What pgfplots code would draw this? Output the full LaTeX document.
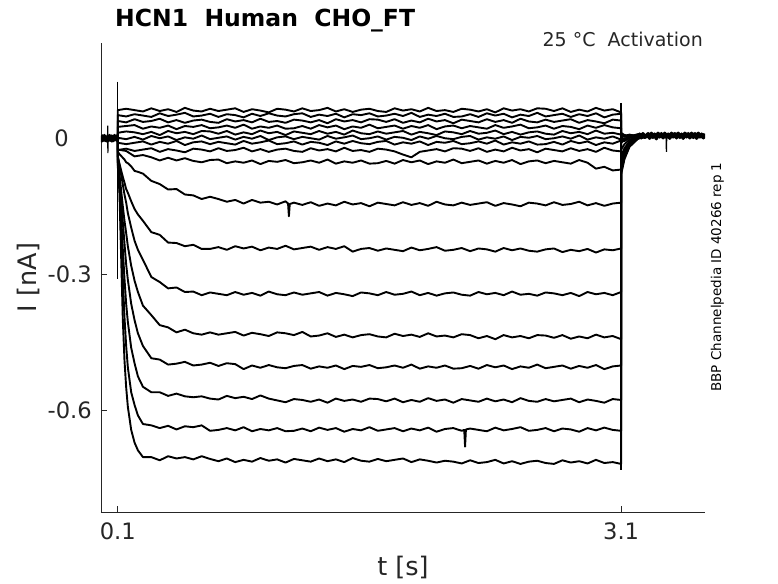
\documentclass[border=0pt]{standalone}
\usepackage{fontspec}
\setmainfont{DejaVu Sans}
\usepackage{pgfplots}
\usepackage{pgfplotstable}
\pgfplotsset{compat=1.18}
\definecolor{mgray}{rgb}{0.15,0.15,0.15}

\pgfplotstableread{
t a b c d e f g h i j k l m n o p q
0.1 0.000 0.000 0.000 0.000 0.000 0.000 0.000 0.000 0.000 0.000 0.000 0.000 0.000 0.000 0.000 0.000 0.000
0.1 0.062 0.051 0.038 0.025 0.012 0.001 -0.010 -0.026 -0.025 -0.030 -0.040 -0.040 -0.045 -0.050 -0.050 -0.055 -0.060
0.11 nan nan nan nan nan nan nan nan nan -0.035 -0.056 -0.060 -0.080 -0.085 -0.095 -0.105 -0.120
0.12 nan nan nan nan nan nan nan nan nan -0.039 -0.071 -0.080 -0.115 -0.135 -0.170 -0.210 -0.260
0.13 nan nan nan nan nan nan nan nan nan -0.043 -0.085 -0.102 -0.150 -0.185 -0.245 -0.310 -0.400
0.14 nan nan nan nan nan nan nan nan nan -0.047 -0.098 -0.124 -0.182 -0.232 -0.310 -0.395 -0.490
0.15 0.065 0.048 0.035 0.027 0.015 -0.002 -0.013 -0.023 -0.028 -0.053 -0.112 -0.142 -0.209 -0.278 -0.365 -0.458 -0.549
0.16 nan nan nan nan nan nan nan nan nan -0.055 -0.120 -0.165 -0.238 -0.312 -0.405 -0.505 -0.592
0.18 nan nan nan nan nan nan nan nan nan -0.062 -0.139 -0.197 -0.281 -0.365 -0.462 -0.560 -0.643
0.2 0.062 0.053 0.042 0.029 0.013 0.003 -0.010 -0.028 -0.040 -0.072 -0.156 -0.226 -0.314 -0.401 -0.496 -0.588 -0.671
0.22 nan nan nan nan nan nan nan nan nan -0.074 -0.168 -0.246 -0.339 -0.430 -0.525 -0.611 -0.688
0.25 0.059 0.050 0.036 0.021 0.009 -0.003 -0.007 -0.025 -0.037 -0.078 -0.182 -0.268 -0.369 -0.458 -0.548 -0.630 -0.703
0.3 0.066 0.047 0.038 0.026 0.014 0.005 -0.014 -0.022 -0.042 -0.094 -0.207 -0.306 -0.390 -0.485 -0.560 -0.633 -0.703
0.35 0.060 0.055 0.043 0.023 0.007 0.000 -0.008 -0.030 -0.049 -0.101 -0.213 -0.317 -0.412 -0.488 -0.560 -0.639 -0.710
0.4 0.064 0.049 0.035 0.028 0.016 0.004 -0.012 -0.024 -0.043 -0.113 -0.230 -0.331 -0.417 -0.499 -0.568 -0.634 -0.701
0.45 0.058 0.052 0.040 0.020 0.011 -0.004 -0.006 -0.027 -0.049 -0.112 -0.231 -0.329 -0.428 -0.497 -0.563 -0.642 -0.706
0.5 0.067 0.056 0.034 0.027 0.014 0.002 -0.015 -0.031 -0.044 -0.124 -0.238 -0.339 -0.422 -0.493 -0.569 -0.635 -0.703
0.55 0.061 0.048 0.039 0.025 0.009 -0.001 -0.009 -0.023 -0.050 -0.126 -0.235 -0.338 -0.430 -0.501 -0.571 -0.637 -0.708
0.6 0.059 0.050 0.041 0.029 0.016 0.006 -0.007 -0.025 -0.053 -0.134 -0.244 -0.346 -0.433 -0.499 -0.569 -0.633 -0.701
0.65 0.065 0.054 0.036 0.022 0.015 -0.002 -0.013 -0.029 -0.048 -0.129 -0.244 -0.340 -0.428 -0.495 -0.574 -0.645 -0.707
0.7 0.060 0.047 0.034 0.024 0.010 0.001 -0.008 -0.022 -0.047 -0.134 -0.240 -0.343 -0.433 -0.502 -0.576 -0.643 -0.712
0.75 0.063 0.053 0.042 0.028 0.016 0.004 -0.011 -0.028 -0.055 -0.140 -0.246 -0.346 -0.430 -0.496 -0.568 -0.639 -0.706
0.8 0.066 0.051 0.037 0.023 0.008 -0.003 -0.014 -0.026 -0.051 -0.136 -0.238 -0.339 -0.427 -0.498 -0.573 -0.644 -0.714
0.85 0.058 0.046 0.040 0.030 0.013 0.003 -0.006 -0.021 -0.054 -0.144 -0.243 -0.345 -0.435 -0.509 -0.570 -0.637 -0.709
0.9 0.064 0.054 0.035 0.021 0.009 -0.001 -0.012 -0.029 -0.049 -0.136 -0.239 -0.341 -0.429 -0.501 -0.575 -0.646 -0.713
0.95 0.061 0.049 0.043 0.026 0.017 0.005 -0.009 -0.024 -0.057 -0.142 -0.247 -0.347 -0.432 -0.506 -0.567 -0.641 -0.705
1.0 0.057 0.055 0.036 0.023 0.011 -0.004 -0.005 -0.030 -0.050 -0.140 -0.241 -0.338 -0.436 -0.500 -0.574 -0.644 -0.711
1.05 0.065 0.050 0.038 0.028 0.014 0.002 -0.013 -0.025 -0.052 -0.146 -0.244 -0.344 -0.428 -0.505 -0.578 -0.639 -0.708
1.1 0.063 0.048 0.034 0.021 0.007 0.004 -0.011 -0.023 -0.048 -0.139 -0.237 -0.346 -0.430 -0.507 -0.582 -0.646 -0.715
1.115 nan nan nan nan nan nan nan nan nan -0.144 nan nan nan nan nan nan nan
1.12 nan nan nan nan nan nan nan nan nan -0.172 nan nan nan nan nan nan nan
1.125 nan nan nan nan nan nan nan nan nan -0.145 nan nan nan nan nan nan nan
1.15 0.059 0.053 0.041 0.022 0.015 -0.002 -0.007 -0.028 -0.055 -0.142 -0.245 -0.340 -0.434 -0.502 -0.575 -0.645 -0.707
1.2 0.066 0.055 0.039 0.027 0.012 0.003 -0.014 -0.030 -0.053 -0.147 -0.242 -0.345 -0.427 -0.500 -0.577 -0.640 -0.710
1.25 0.060 0.047 0.035 0.021 0.009 0.000 -0.008 -0.022 -0.049 -0.141 -0.239 -0.342 -0.437 -0.508 -0.581 -0.646 -0.713
1.3 0.062 0.052 0.040 0.029 0.016 -0.003 -0.010 -0.027 -0.054 -0.149 -0.246 -0.339 -0.435 -0.503 -0.576 -0.638 -0.706
1.35 0.067 0.049 0.033 0.024 0.010 0.005 -0.015 -0.024 -0.047 -0.144 -0.240 -0.347 -0.430 -0.506 -0.583 -0.643 -0.712
1.4 0.059 0.054 0.042 0.028 0.014 -0.001 -0.007 -0.029 -0.056 -0.148 -0.244 -0.341 -0.438 -0.501 -0.574 -0.639 -0.708
1.45 0.064 0.046 0.037 0.020 0.008 0.002 -0.012 -0.021 -0.051 -0.140 -0.238 -0.344 -0.433 -0.509 -0.579 -0.647 -0.714
1.5 0.058 0.053 0.040 0.026 0.017 0.006 -0.006 -0.028 -0.054 -0.146 -0.250 -0.348 -0.439 -0.502 -0.576 -0.641 -0.705
1.55 0.063 0.051 0.035 0.023 0.011 -0.002 -0.011 -0.026 -0.049 -0.143 -0.244 -0.340 -0.434 -0.504 -0.581 -0.644 -0.711
1.6 0.065 0.055 0.042 0.030 0.009 0.000 -0.013 -0.030 -0.056 -0.150 -0.242 -0.342 -0.432 -0.500 -0.574 -0.637 -0.713
1.65 0.060 0.048 0.041 0.022 0.015 0.004 -0.008 -0.023 -0.055 -0.142 -0.248 -0.346 -0.437 -0.507 -0.575 -0.645 -0.707
1.7 0.058 0.050 0.036 0.025 0.010 -0.003 -0.006 -0.025 -0.050 -0.145 -0.243 -0.339 -0.439 -0.505 -0.580 -0.642 -0.712
1.75 0.066 0.054 0.042 0.028 0.013 0.003 -0.014 -0.029 -0.056 -0.148 -0.246 -0.345 -0.431 -0.501 -0.574 -0.639 -0.709
1.8 0.061 0.049 0.034 0.021 0.016 0.001 -0.009 -0.036 -0.048 -0.141 -0.249 -0.343 -0.436 -0.506 -0.582 -0.646 -0.706
1.85 0.064 0.056 0.039 0.027 0.008 -0.004 -0.012 -0.042 -0.053 -0.147 -0.241 -0.338 -0.433 -0.499 -0.577 -0.640 -0.714
1.9 0.059 0.047 0.035 0.023 0.014 0.004 -0.007 -0.030 -0.049 -0.143 -0.247 -0.346 -0.438 -0.508 -0.581 -0.644 -0.708
1.95 0.067 0.052 0.043 0.029 0.011 -0.001 -0.015 -0.027 -0.057 -0.149 -0.244 -0.341 -0.430 -0.503 -0.573 -0.638 -0.711
2.0 0.060 0.049 0.037 0.020 0.007 0.005 -0.008 -0.024 -0.051 -0.140 -0.240 -0.347 -0.437 -0.506 -0.579 -0.647 -0.715
2.05 0.062 0.054 0.040 0.026 0.015 0.000 -0.010 -0.029 -0.054 -0.146 -0.248 -0.342 -0.435 -0.501 -0.576 -0.641 -0.711
2.1 0.058 0.047 0.033 0.028 0.013 -0.002 -0.006 -0.022 -0.047 -0.148 -0.246 -0.340 -0.439 -0.508 -0.583 -0.639 -0.713
2.15 0.065 0.048 0.041 0.022 0.009 0.003 -0.013 -0.023 -0.055 -0.142 -0.242 -0.345 -0.432 -0.507 -0.575 -0.645 -0.717
2.165 nan nan nan nan nan nan nan nan nan nan nan nan nan nan nan -0.643 nan
2.17 nan nan nan nan nan nan nan nan nan nan nan nan nan nan nan -0.680 nan
2.175 nan nan nan nan nan nan nan nan nan nan nan nan nan nan nan -0.642 nan
2.2 0.063 0.053 0.038 0.027 0.016 0.005 -0.011 -0.028 -0.052 -0.147 -0.249 -0.347 -0.434 -0.502 -0.578 -0.640 -0.710
2.25 0.059 0.047 0.035 0.024 0.010 -0.003 -0.007 -0.022 -0.049 -0.144 -0.243 -0.339 -0.441 -0.508 -0.581 -0.643 -0.716
2.3 0.064 0.055 0.042 0.021 0.012 0.002 -0.012 -0.030 -0.056 -0.141 -0.245 -0.344 -0.436 -0.500 -0.574 -0.646 -0.714
2.35 0.057 0.050 0.036 0.029 0.017 -0.001 -0.005 -0.025 -0.050 -0.149 -0.250 -0.341 -0.443 -0.505 -0.580 -0.638 -0.709
2.4 0.066 0.054 0.040 0.023 0.009 0.004 -0.014 -0.029 -0.054 -0.143 -0.242 -0.346 -0.434 -0.501 -0.576 -0.644 -0.717
2.45 0.061 0.046 0.034 0.026 0.014 -0.004 -0.009 -0.021 -0.048 -0.146 -0.247 -0.338 -0.439 -0.509 -0.582 -0.641 -0.712
2.5 0.064 0.052 0.043 0.030 0.008 0.003 -0.012 -0.027 -0.057 -0.150 -0.243 -0.345 -0.436 -0.503 -0.573 -0.637 -0.718
2.55 0.059 0.049 0.037 0.022 0.013 0.001 -0.007 -0.024 -0.051 -0.142 -0.248 -0.343 -0.441 -0.506 -0.579 -0.645 -0.713
2.6 0.066 0.056 0.035 0.024 0.015 0.005 -0.014 -0.031 -0.049 -0.144 -0.250 -0.347 -0.434 -0.499 -0.581 -0.643 -0.711
2.65 0.065 0.048 0.041 0.028 0.010 -0.002 -0.013 -0.023 -0.055 -0.148 -0.245 -0.340 -0.435 -0.507 -0.575 -0.639 -0.716
2.7 0.060 0.051 0.036 0.021 0.008 0.000 -0.008 -0.026 -0.050 -0.141 -0.243 -0.342 -0.440 -0.504 -0.580 -0.646 -0.718
2.75 0.066 0.054 0.039 0.027 0.016 0.004 -0.014 -0.029 -0.053 -0.147 -0.251 -0.346 -0.434 -0.501 -0.577 -0.640 -0.710
2.8 0.058 0.047 0.042 0.025 0.011 -0.001 -0.006 -0.022 -0.056 -0.145 -0.246 -0.341 -0.442 -0.508 -0.574 -0.642 -0.715
2.85 0.063 0.053 0.034 0.020 0.014 0.006 -0.011 -0.028 -0.048 -0.140 -0.249 -0.348 -0.437 -0.502 -0.582 -0.647 -0.712
2.9 0.059 0.049 0.040 0.028 0.009 -0.003 -0.007 -0.024 -0.054 -0.148 -0.244 -0.339 -0.441 -0.506 -0.576 -0.639 -0.717
2.95 0.067 0.055 0.037 0.023 0.017 0.002 -0.015 -0.030 -0.067 -0.143 -0.252 -0.344 -0.433 -0.500 -0.579 -0.644 -0.709
3.0 0.061 0.046 0.033 0.029 0.010 -0.001 -0.009 -0.021 -0.063 -0.149 -0.245 -0.341 -0.439 -0.509 -0.583 -0.638 -0.716
3.05 0.064 0.052 0.041 0.024 0.012 0.004 -0.012 -0.027 -0.071 -0.144 -0.247 -0.346 -0.436 -0.503 -0.575 -0.643 -0.714
3.1 0.057 0.054 0.039 0.022 0.008 -0.003 -0.005 -0.029 -0.069 -0.142 -0.243 -0.339 -0.443 -0.501 -0.577 -0.645 -0.718
3.1 0.012 0.010 0.008 0.006 0.004 0.002 0.000 -0.004 -0.010 -0.025 -0.040 -0.050 -0.060 -0.065 -0.070 -0.075 -0.080
3.12 0.007 0.005 0.003 0.004 0.007 -0.002 -0.003 -0.006 -0.004 -0.013 -0.022 -0.028 -0.034 -0.037 -0.040 -0.043 -0.046
3.15 0.004 0.008 0.007 0.002 0.003 0.004 0.003 0.001 0.001 -0.003 -0.007 -0.010 -0.013 -0.014 -0.016 -0.017 -0.019
3.2 0.009 0.004 0.005 0.007 0.006 0.006 0.005 0.006 0.005 0.003 0.002 0.001 0.001 0.000 0.000 -0.001 -0.001
3.25 0.005 0.007 0.008 0.005 0.007 0.004 0.006 0.005 0.006 0.005 0.005 0.005 0.004 0.004 0.004 0.004 0.004
}\traces

\begin{document}
\begin{tikzpicture}
\useasboundingbox (0,0) rectangle (778pt,583pt);
\begin{axis}[
  at={(101pt,71pt)}, anchor=south west,
  scale only axis, width=604pt, height=469pt,
  xmin=0, xmax=3.6, ymin=-0.824, ymax=0.210,
  axis lines=left,
  axis line style={-, draw=mgray, line width=0.6pt},
  tick align=inside,
  major tick length=6pt,
  major tick style={draw=mgray, line width=0.6pt},
  xtick={0.1,3.1}, xticklabels={0.1,3.1},
  ytick={-0.6,-0.3,0}, yticklabels={-0.6,-0.3,{0\hspace*{23pt}}},
  tick label style={font=\fontsize{22.6}{27}\selectfont, text=mgray},
  xticklabel style={anchor=north, inner sep=0pt, yshift=-11pt},
  yticklabel style={anchor=east, inner sep=0pt, xshift=-9pt},
  xlabel={t [s]}, ylabel={I [nA]},
  label style={font=\fontsize{25.5}{30}\selectfont, text=mgray, inner sep=0pt},
  xlabel style={at={(axis description cs:0.5,-0.0938)}, anchor=north},
  ylabel style={at={(axis description cs:-0.101,0.5)}, anchor=south},
]
\pgfplotsinvokeforeach{a,b,c,d,e,f,g,h,i,j,k,l,m,n,o,p,q}{
  \addplot[black, line width=1.9pt, line join=round, no markers] table[x=t, y=#1] {\traces};
}
% holding current before the step
\addplot[black, line width=3.5pt, line join=round, no markers] coordinates {
(0,0.004)(0.005,-0.006)(0.01,0.005)(0.015,-0.004)(0.02,0.006)(0.025,-0.005)(0.03,0.003)(0.035,-0.006)(0.04,0.004)(0.045,-0.005)(0.05,0.006)(0.055,-0.004)(0.06,0.005)(0.065,-0.006)(0.07,0.004)(0.075,-0.005)(0.08,0.006)(0.085,-0.003)(0.09,0.005)(0.095,-0.004)(0.1,0.000)
};
\addplot[black, line width=1.2pt, no markers] coordinates {(0.039,0.000)(0.04,0.028)(0.041,-0.033)(0.042,0.000)};
% holding current after the step
\addplot[black, line width=3.5pt, line join=round, no markers] coordinates {
(3.2,0.003)(3.21,0.009)(3.22,0.001)(3.23,0.010)(3.24,0.002)(3.25,0.004)(3.26,0.010)(3.27,0.000)(3.28,0.011)(3.29,0.002)(3.30,0.009)(3.31,-0.001)(3.32,0.011)(3.33,0.003)(3.34,0.010)(3.35,0.001)(3.36,0.011)(3.37,0.002)(3.38,0.009)(3.39,0.000)(3.40,0.011)(3.41,0.003)(3.42,0.010)(3.43,0.001)(3.44,0.011)(3.45,0.002)(3.46,0.009)(3.47,0.000)(3.48,0.011)(3.49,0.003)(3.50,0.010)(3.51,0.001)(3.52,0.011)(3.53,0.002)(3.54,0.010)(3.55,0.000)(3.56,0.011)(3.57,0.003)(3.58,0.009)(3.59,0.001)(3.60,0.010)
};
\addplot[black, line width=1.2pt, no markers] coordinates {(3.368,0.004)(3.37,-0.030)(3.372,0.004)};
% capacitive transients
\addplot[black, line width=1.3pt, no markers] coordinates {(0.1,0.125)(0.1,-0.31)};
\addplot[black, line width=1.3pt, no markers] coordinates {(3.1,0.078)(3.1,-0.731)};
\end{axis}
\node[anchor=base west, inner sep=0pt, font=\fontsize{23.5}{28}\selectfont\bfseries] at (115pt,556.5pt) {HCN1\ \ Human\ \ CHO\_FT};
\node[anchor=base east, inner sep=0pt, font=\fontsize{19}{23}\selectfont, text=mgray] at (703pt,536pt) {25 °C\ \ Activation};
\node[anchor=base, inner sep=0pt, rotate=90, font=\fontsize{13.5}{16}\selectfont] at (721pt,306pt) {BBP Channelpedia ID 40266 rep 1};
\end{tikzpicture}
\end{document}
